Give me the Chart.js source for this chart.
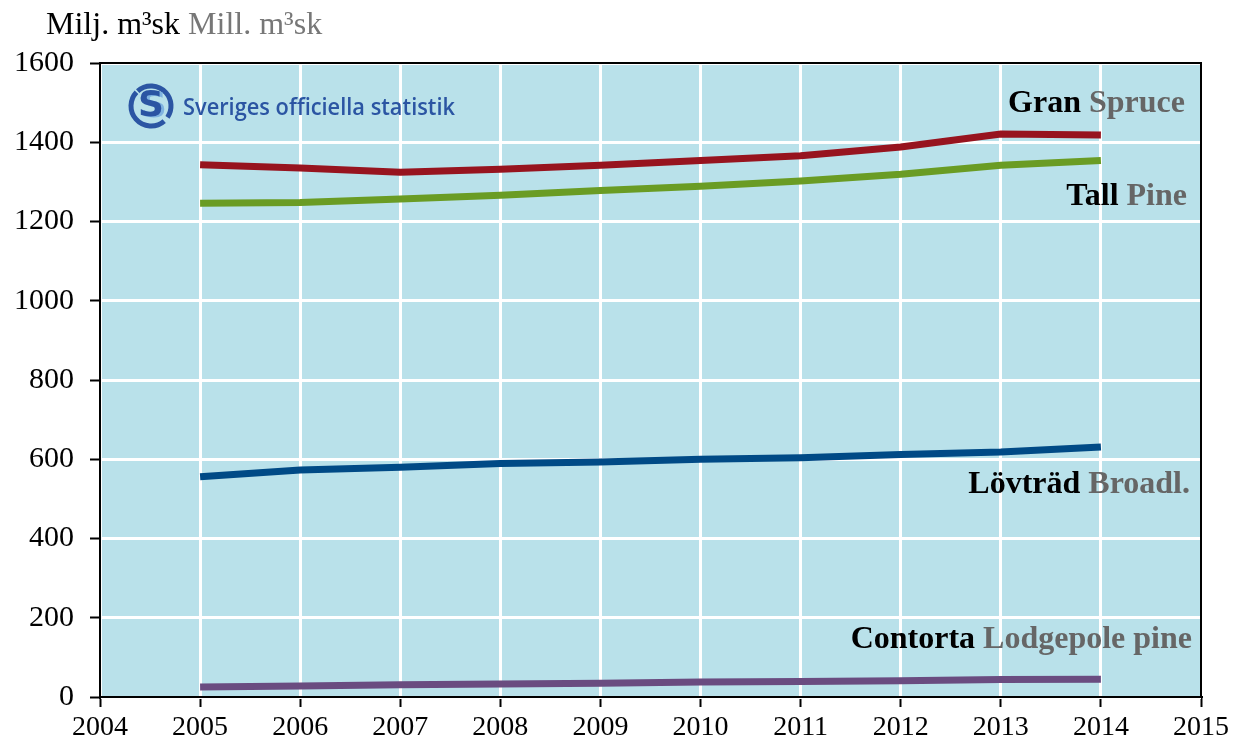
<!DOCTYPE html>
<html>
<head>
<meta charset="utf-8">
<script src="https://cdn.jsdelivr.net/npm/chart.js@4.4.1/dist/chart.umd.min.js"></script>
<style>
  html, body { margin: 0; padding: 0; background: #fff; }
  #wrap { width: 1236px; height: 749px; }
</style>
</head>
<body>
<div id="wrap"><canvas id="chart" width="1236" height="749"></canvas></div>
<script>
// år och volymer (milj. m³sk)
const years = [2005, 2006, 2007, 2008, 2009, 2010, 2011, 2012, 2013, 2014];
const gran = [1343, 1335, 1324, 1332, 1342, 1354, 1366, 1388, 1421, 1418];
const tall = [1246, 1248, 1257, 1266, 1278, 1289, 1302, 1319, 1342, 1354];
const lovtrad = [556, 573, 580, 589, 593, 600, 604, 612, 618, 631];
const contorta = [25, 28, 31, 33, 35, 38, 39, 41, 44, 45];
const yTicks = [0, 200, 400, 600, 800, 1000, 1200, 1400, 1600];

const serif = '"Liberation Serif", "Times New Roman", serif';

// etiketter: svensk text, engelsk text, position i datakoordinater (högerjusterad)
const seriesLabels = [
  { sv: 'Gran', en: 'Spruce', x: 2014.84, y: 1496 },
  { sv: 'Tall', en: 'Pine', x: 2014.86, y: 1262 },
  { sv: 'Lövträd', en: 'Broadl.', x: 2014.89, y: 535 },
  { sv: 'Contorta', en: 'Lodgepole pine', x: 2014.91, y: 144 }
];

const toPoints = arr => arr.map((v, i) => ({ x: years[i], y: v }));

const decor = {
  id: 'decor',
  beforeDraw(chart) {
    const { ctx, chartArea: a } = chart;
    ctx.save();
    ctx.fillStyle = '#b9e1ea';
    ctx.fillRect(a.left, a.top, a.right - a.left, a.bottom - a.top);
    ctx.restore();
  },
  afterDatasetsDraw(chart) {
    const { ctx, chartArea: a, scales } = chart;
    ctx.save();
    // ram runt ritytan
    ctx.strokeStyle = '#000';
    ctx.lineWidth = 2;
    ctx.strokeRect(a.left, a.top, a.right - a.left, a.bottom - a.top);

    // rubrik
    ctx.textBaseline = 'middle';
    ctx.textAlign = 'left';
    ctx.font = '32px ' + serif;
    ctx.fillStyle = '#000';
    const t1 = 'Milj. m³sk ';
    ctx.fillText(t1, 46, 26);
    ctx.fillStyle = '#777';
    ctx.fillText('Mill. m³sk', 46 + ctx.measureText(t1).width, 26);

    // serieetiketter
    ctx.font = 'bold 32px ' + serif;
    seriesLabels.forEach(l => {
      const px = scales.x.getPixelForValue(l.x);
      const py = scales.y.getPixelForValue(l.y);
      const wEn = ctx.measureText(l.en).width;
      const wSv = ctx.measureText(l.sv + ' ').width;
      ctx.fillStyle = '#666';
      ctx.fillText(l.en, px - wEn, py);
      ctx.fillStyle = '#000';
      ctx.fillText(l.sv + ' ', px - wEn - wSv, py);
    });

    // logotyp
    const cx = 151, cy = 106, r = 20;
    ctx.lineWidth = 5;
    ctx.strokeStyle = '#2b55a3';
    ctx.beginPath(); ctx.arc(cx, cy, r, -2.3, 0.6); ctx.stroke();
    ctx.beginPath(); ctx.arc(cx, cy, r, 0.85, 3.9); ctx.stroke();
    ctx.textAlign = 'center';
    ctx.font = 'bold 36px "DejaVu Sans", sans-serif';
    ctx.fillStyle = '#7fb3e0';
    ctx.fillText('S', cx + 3, cy + 2);
    ctx.fillStyle = '#2b55a3';
    ctx.fillText('S', cx, cy + 1);
    ctx.textAlign = 'left';
    ctx.font = '600 24px "Open Sans", sans-serif';
    const logoText = 'Sveriges officiella statistik';
    const w = ctx.measureText(logoText).width;
    ctx.translate(183, 108);
    ctx.scale(272 / w, 1);
    ctx.fillStyle = '#2b55a3';
    ctx.fillText(logoText, 0, 0);
    ctx.restore();
  }
};

const lineDs = (label, data, color) => ({
  label, data: toPoints(data), borderColor: color, backgroundColor: color,
  borderWidth: 7, pointRadius: 0, tension: 0, fill: false
});

new Chart(document.getElementById('chart'), {
  type: 'line',
  data: {
    datasets: [
      lineDs('Gran', gran, '#97141f'),
      lineDs('Tall', tall, '#6a9c24'),
      lineDs('Lövträd', lovtrad, '#004a86'),
      lineDs('Contorta', contorta, '#6a4c80')
    ]
  },
  options: {
    responsive: false,
    animation: false,
    layout: { padding: { top: 63, right: 35, left: 0, bottom: 0 } },
    plugins: { legend: { display: false }, tooltip: { enabled: false } },
    scales: {
      x: {
        type: 'linear', min: 2004, max: 2015,
        afterFit(s) { s.height = 52; },
        ticks: { stepSize: 1, color: '#000', font: { family: serif, size: 28 }, padding: 4,
                 callback: v => String(v), maxRotation: 0, autoSkip: false },
        grid: { color: '#fff', lineWidth: 3, tickColor: '#000', tickLength: 10, tickWidth: 2 },
        border: { color: '#000', width: 2 }
      },
      y: {
        min: 0, max: 1600,
        afterFit(s) { s.width = 100; },
        afterBuildTicks(s) { s.ticks = yTicks.map(v => ({ value: v })); },
        ticks: { color: '#000', font: { family: serif, size: 30 }, padding: 16,
                 callback: v => String(v) },
        grid: { color: '#fff', lineWidth: 3, tickColor: '#000', tickLength: 10, tickWidth: 2 },
        border: { color: '#000', width: 2 }
      }
    }
  },
  plugins: [decor]
});
</script>
</body>
</html>
